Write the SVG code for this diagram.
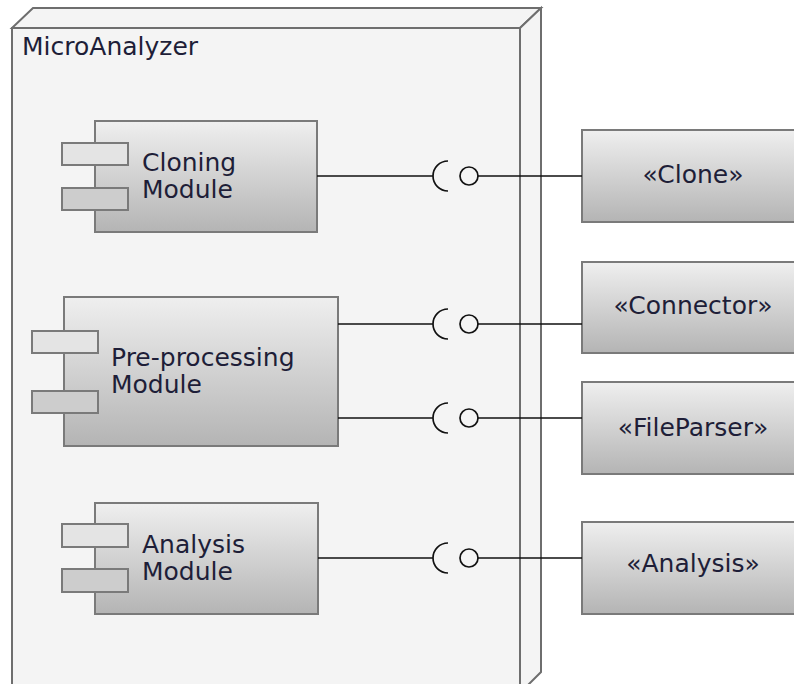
<svg xmlns="http://www.w3.org/2000/svg" width="794" height="684" viewBox="0 0 794 684">
<style>
.node3d{fill:#f4f4f4;stroke:#6e6e6e;stroke-width:2}
.box{fill:url(#g);stroke:#7a7a7a;stroke-width:2}
.port1{fill:#e4e4e4;stroke:#7a7a7a;stroke-width:2}
.port2{fill:#cdcdcd;stroke:#7a7a7a;stroke-width:2}
.lbl{font-family:"DejaVu Sans","Verdana",sans-serif;font-size:25px;fill:#1e1e38}
.mid{text-anchor:middle}
.wire{stroke:#111111;stroke-width:1.7;fill:none}
.ball{stroke:#111111;stroke-width:1.7;fill:#f4f4f4}
</style>
<defs>
<linearGradient id="g" x1="0" y1="0" x2="0" y2="1">
<stop offset="0" stop-color="#efefef"/>
<stop offset="1" stop-color="#b4b4b4"/>
</linearGradient>
</defs>
<rect x="0" y="0" width="794" height="684" fill="#ffffff"/>
<g id="MicroAnalyzer">
<polygon class="node3d" points="12,28 33,8 541,8 520,28"/>
<polygon class="node3d" points="520,28 541,8 541,672 520,693"/>
<rect class="node3d" x="12" y="28" width="508" height="665"/>
<text class="lbl" x="22" y="55">MicroAnalyzer</text>
</g>
<g id="CloningModule">
<rect class="box" x="95" y="121" width="222" height="111"/>
<rect class="port1" x="62" y="143" width="66" height="22"/>
<rect class="port2" x="62" y="188" width="66" height="22"/>
<text class="lbl" x="142" y="171">Cloning</text>
<text class="lbl" x="142" y="198">Module</text>
</g>
<g id="PreprocessingModule">
<rect class="box" x="64" y="297" width="274" height="149"/>
<rect class="port1" x="32" y="331" width="66" height="22"/>
<rect class="port2" x="32" y="391" width="66" height="22"/>
<text class="lbl" x="111" y="366">Pre-processing</text>
<text class="lbl" x="111" y="393">Module</text>
</g>
<g id="AnalysisModule">
<rect class="box" x="95" y="503" width="223" height="111"/>
<rect class="port1" x="62" y="524" width="66" height="23"/>
<rect class="port2" x="62" y="569" width="66" height="23"/>
<text class="lbl" x="142" y="553">Analysis</text>
<text class="lbl" x="142" y="580">Module</text>
</g>
<g id="Clone">
<rect class="box" x="582" y="130" width="222" height="92"/>
<text class="lbl mid" x="693" y="183">«Clone»</text>
</g>
<g id="Connector">
<rect class="box" x="582" y="262" width="222" height="91"/>
<text class="lbl mid" x="693" y="314">«Connector»</text>
</g>
<g id="FileParser">
<rect class="box" x="582" y="382" width="222" height="92"/>
<text class="lbl mid" x="693" y="436">«FileParser»</text>
</g>
<g id="Analysis">
<rect class="box" x="582" y="522" width="222" height="92"/>
<text class="lbl mid" x="693" y="572">«Analysis»</text>
</g>
<g id="connectors">
<path class="wire" d="M317 176 H433 M448 161 A15 15 0 0 0 448 191 M478 176 H582"/>
<circle class="ball" cx="469" cy="176" r="9"/>
<path class="wire" d="M338 324 H433 M448 309 A15 15 0 0 0 448 339 M478 324 H582"/>
<circle class="ball" cx="469" cy="324" r="9"/>
<path class="wire" d="M338 418 H433 M448 403 A15 15 0 0 0 448 433 M478 418 H582"/>
<circle class="ball" cx="469" cy="418" r="9"/>
<path class="wire" d="M318 558 H433 M448 543 A15 15 0 0 0 448 573 M478 558 H582"/>
<circle class="ball" cx="469" cy="558" r="9"/>
</g>
</svg>
